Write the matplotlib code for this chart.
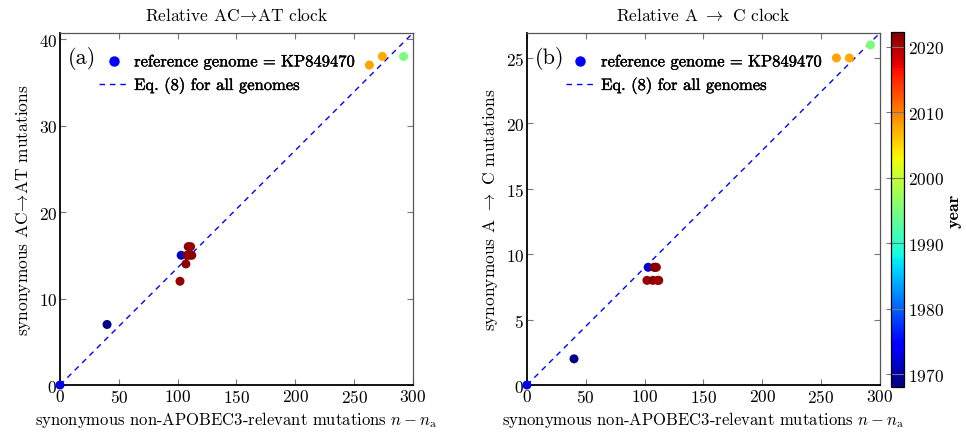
import matplotlib
matplotlib.use("Agg")
import matplotlib.pyplot as plt
from matplotlib.lines import Line2D
import matplotlib.patheffects as pe
import numpy as np

plt.rcParams["font.family"] = "serif"
plt.rcParams["font.serif"] = ["cmr10"]
plt.rcParams["mathtext.fontset"] = "cm"
plt.rcParams["axes.formatter.use_mathtext"] = True
plt.rcParams["axes.unicode_minus"] = False

# Sampling year of each genome (colour scale)
years = [1973, 1968.5, 1972, 2021, 2021.5, 2022, 2021, 2021.5, 2022, 2021, 2008, 2007.5, 1995]

# Synonymous non-APOBEC3-relevant mutations n - n_a (shared x for both panels)
n_rel = [0, 40, 103, 102, 107, 108, 110, 112, 109, 111, 263, 274, 292]

# Panel (a): synonymous AC->AT mutations
ac_at = [0, 7, 15, 12, 14, 15, 15, 15, 16, 16, 37, 38, 38]
# Panel (b): synonymous A->C mutations
a_c = [0, 2, 9, 8, 8, 9, 9, 8, 9, 8, 25, 25, 26]

# Fitted slopes of Eq. (8) for all genomes
slope_a = 0.1357
slope_b = 0.0897

x_max = 300
year_min, year_max = 1968, 2022.3

cmap = plt.get_cmap("jet")
norm = matplotlib.colors.Normalize(vmin=year_min, vmax=year_max)

fig = plt.figure(figsize=(9.66, 4.39), dpi=100)
ax_a = fig.add_axes([0.0621, 0.1207, 0.3654, 0.8019])
ax_b = fig.add_axes([0.5455, 0.1207, 0.3654, 0.8019])
cax = fig.add_axes([0.9224, 0.116, 0.0134, 0.809])

dash = (0, (4, 3.5))
bolden = [pe.withStroke(linewidth=0.3, foreground="black")]

panels = [
    (ax_a, ac_at, slope_a, "(a)", r"Relative AC$\!\rightarrow\!$AT clock",
     r"synonymous AC$\!\rightarrow\!$AT mutations", [0, 10, 20, 30, 40]),
    (ax_b, a_c, slope_b, "(b)", r"Relative A $\rightarrow$ C clock",
     r"synonymous A $\rightarrow$ C mutations", [0, 5, 10, 15, 20, 25]),
]

for ax, yvals, slope, tag, title, ylabel, yticks in panels:
    xs = np.array([0, x_max])
    ax.plot(xs, slope * xs, color="blue", lw=1.0, ls=dash, zorder=2)
    ax.scatter(n_rel, yvals, c=years, cmap=cmap, norm=norm, s=42,
               edgecolors="none", zorder=3, clip_on=False)
    ax.set_xlim(0, x_max)
    ax.set_ylim(0, slope * x_max)
    ax.set_xticks([0, 50, 100, 150, 200, 250, 300])
    ax.set_yticks(yticks)
    ax.tick_params(direction="in", top=True, right=True, length=4.5,
                   width=0.8, color="#777777", labelsize=12.5, pad=2)
    for side in ("left", "bottom"):
        ax.spines[side].set_linewidth(1.3)
        ax.spines[side].set_color("black")
    for side in ("top", "right"):
        ax.spines[side].set_linewidth(0.9)
        ax.spines[side].set_color("#555555")
    ax.set_title(title, fontsize=12.5, pad=9)
    ax.set_xlabel(r"synonymous non-APOBEC3-relevant mutations $n-n_{\mathrm{a}}$",
                  fontsize=12, labelpad=3)
    ax.set_ylabel(ylabel, fontsize=12.5, labelpad=4)

    handles = [
        Line2D([], [], marker="o", ls="none", color="blue", markersize=6.5),
        Line2D([], [], color="blue", lw=1.0, ls=dash),
    ]
    leg = ax.legend(handles, [r"reference genome$\,=\,$KP849470", "Eq. (8) for all genomes"],
                    loc="upper left", bbox_to_anchor=(0.072, 0.985), frameon=False,
                    fontsize=11.9, handlelength=1.8, handletextpad=0.35,
                    labelspacing=0.28, borderaxespad=0.4)
    for t in leg.get_texts():
        t.set_path_effects(bolden)
    ax.text(0.022, 0.93, tag, transform=ax.transAxes, fontsize=16,
            va="center", ha="left")

cb = fig.colorbar(plt.cm.ScalarMappable(norm=norm, cmap=cmap), cax=cax)
cb.set_ticks([1970, 1980, 1990, 2000, 2010, 2020])
cb.ax.tick_params(direction="in", length=13, width=0.8, color="#777777",
                  labelsize=12.5, pad=3)
cb.outline.set_linewidth(0.9)
cb.set_label("year", fontsize=13, family="cmb10", labelpad=2)

fig.savefig("out.png", dpi=100)
